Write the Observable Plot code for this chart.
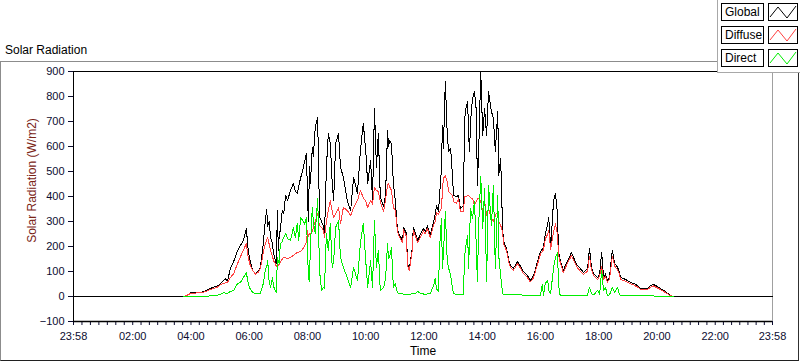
<!DOCTYPE html>
<html>
<head>
<meta charset="utf-8">
<script src="https://cdn.jsdelivr.net/npm/d3@7"></script>
<script src="https://cdn.jsdelivr.net/npm/@observablehq/plot@0.6"></script>
<style>
  body { margin: 0; background: #fff; }
  #root { position: relative; width: 800px; height: 361px; overflow: hidden; font-family: "Liberation Sans", Arial, sans-serif; }
  #title { position: absolute; left: 5px; top: 43px; font-size: 12px; color: #000; white-space: nowrap; }
  #chart { position: absolute; left: 0; top: 61px; }
  #frame { position: absolute; left: 0; top: 61px; width: 799px; height: 300px; box-sizing: border-box;
           border-top: 1px solid #8c8c8c; border-left: 1px solid #8c8c8c; border-right: 1px solid #303030; border-bottom: 1px solid #202020; pointer-events: none; }
  #legend { position: absolute; left: 717px; top: 0; width: 83px; height: 73px; background: #fff; box-sizing: border-box;
            border-left: 1px solid #a8a8a8; border-bottom: 1px solid #a8a8a8; }
  .lab { position: absolute; left: 3px; width: 43px; height: 18px; box-sizing: border-box; border: 1px solid #000;
         font-size: 12px; line-height: 16px; padding-left: 3px; color: #000; white-space: nowrap; }
  .sw { position: absolute; left: 50px; width: 30px; height: 18px; box-sizing: border-box; border: 1px solid #000; }
</style>
</head>
<body>
<div id="root">
  <div id="title">Solar Radiation</div>
  <div id="chart"></div>
  <div id="frame"></div>
  <div id="legend"></div>
</div>
<script>
// ---- tick labels ----
const timeTickLabels = ["23:58","02:00","04:00","06:00","08:00","10:00","12:00","14:00","16:00","18:00","20:00","22:00","23:58"];
const yTickValues = [-100, 0, 100, 200, 300, 400, 500, 600, 700, 800, 900];
const minorPerMajor = 7;

// ---- legend ----
const seriesNames = ["Global", "Diffuse", "Direct"];
const seriesColors = ["#000000", "#ff4040", "#00ee00"];

// ---- data: [minutes since midnight, W/m2] ----
const globalRad = [[-2,0],[225,0],[232,6],[239,14],[250,16],[260,17],[270,22],[278,30],[286,37],[295,42],[301,52],[307,64],[311,72],[315,60],[321,110],[328,140],[336,184],[342,205],[348,224],[354,272],[358,184],[362,140],[367,104],[373,92],[378,100],[383,116],[389,212],[393,300],[396,348],[398,280],[401,300],[404,236],[408,210],[410,172],[414,144],[416,130],[418,344],[420,184],[422,250],[424,264],[428,344],[431,330],[435,404],[439,384],[445,424],[451,452],[455,420],[459,412],[462,440],[466,476],[470,500],[474,540],[478,572],[480,397],[482,300],[484,520],[486,450],[490,597],[492,560],[496,677],[501,717],[503,500],[505,317],[509,300],[513,280],[515,236],[519,517],[523,652],[527,612],[531,452],[534,384],[538,612],[544,652],[548,517],[554,477],[562,384],[569,344],[575,477],[583,412],[589,584],[595,692],[600,584],[604,452],[610,544],[614,384],[618,752],[622,517],[626,652],[630,400],[637,360],[641,412],[645,664],[647,600],[649,624],[653,612],[657,452],[661,384],[665,276],[668,252],[676,224],[678,276],[684,252],[686,132],[690,112],[696,196],[698,276],[703,250],[707,224],[713,250],[719,272],[723,260],[727,284],[733,244],[740,300],[743,330],[746,364],[750,340],[752,400],[756,512],[758,684],[760,592],[764,860],[768,644],[771,580],[775,592],[779,472],[781,404],[787,400],[791,404],[795,352],[801,364],[804,712],[806,750],[810,780],[812,640],[814,580],[816,700],[820,792],[824,820],[828,740],[830,444],[833,600],[837,900],[841,644],[845,752],[849,644],[853,820],[859,740],[863,712],[867,580],[872,740],[874,484],[878,552],[882,272],[884,220],[890,192],[894,152],[898,124],[904,112],[913,140],[919,120],[925,100],[933,84],[939,64],[946,84],[954,140],[960,180],[964,190],[966,196],[970,250],[975,292],[977,316],[981,196],[987,384],[991,412],[995,332],[997,184],[999,160],[1001,144],[1007,104],[1016,144],[1024,176],[1028,156],[1036,124],[1042,112],[1049,96],[1057,112],[1061,192],[1065,116],[1069,92],[1078,76],[1082,92],[1086,176],[1090,76],[1094,90],[1098,64],[1102,76],[1108,184],[1113,132],[1119,116],[1122,100],[1125,76],[1131,72],[1139,64],[1146,56],[1152,52],[1160,44],[1166,32],[1172,32],[1181,32],[1187,44],[1193,48],[1201,40],[1207,32],[1214,24],[1222,12],[1228,4],[1234,0],[1438,0]];

const diffuseRad = [[225,0],[232,5],[239,12],[250,14],[260,15],[270,20],[278,26],[286,32],[295,38],[301,48],[307,52],[311,54],[315,56],[321,75],[328,92],[336,132],[342,160],[348,184],[354,212],[358,156],[362,125],[367,104],[373,90],[378,96],[383,112],[389,176],[393,210],[396,225],[398,236],[401,210],[404,184],[408,160],[410,144],[414,130],[416,120],[418,116],[420,125],[422,130],[424,136],[428,150],[431,156],[435,155],[439,152],[445,156],[451,164],[455,170],[459,176],[462,178],[466,180],[470,190],[474,200],[478,220],[480,264],[482,240],[484,250],[486,252],[490,260],[492,276],[496,300],[501,332],[503,300],[505,285],[509,276],[513,264],[515,236],[519,300],[523,344],[527,384],[531,340],[534,316],[538,330],[544,356],[548,292],[554,356],[562,344],[569,324],[575,356],[583,384],[589,424],[595,396],[600,380],[604,356],[610,384],[614,370],[618,436],[622,424],[626,420],[630,380],[637,340],[641,390],[645,444],[647,452],[649,440],[653,424],[657,356],[661,344],[665,268],[668,244],[676,214],[678,266],[684,240],[686,124],[690,104],[696,186],[698,264],[703,240],[707,214],[713,238],[719,262],[723,250],[727,272],[733,234],[740,288],[743,300],[746,336],[750,328],[752,340],[756,352],[758,420],[760,472],[764,484],[768,460],[771,420],[775,410],[779,404],[781,380],[787,372],[791,392],[795,340],[801,340],[804,400],[806,400],[810,404],[812,404],[814,400],[816,395],[820,392],[824,364],[828,380],[830,392],[833,390],[837,380],[841,340],[845,380],[849,324],[853,352],[859,312],[863,300],[867,324],[872,340],[874,300],[878,284],[882,260],[884,210],[890,184],[894,144],[898,116],[904,104],[913,132],[919,112],[925,92],[933,76],[939,58],[946,76],[954,130],[960,170],[964,180],[966,186],[970,230],[975,250],[977,264],[981,188],[987,260],[991,290],[995,250],[997,170],[999,150],[1001,134],[1007,96],[1016,134],[1024,164],[1028,146],[1036,114],[1042,102],[1049,88],[1057,102],[1061,160],[1065,108],[1069,84],[1078,68],[1082,82],[1086,120],[1090,68],[1094,78],[1098,58],[1102,68],[1108,160],[1113,122],[1119,106],[1122,92],[1125,68],[1131,64],[1139,58],[1146,50],[1152,46],[1160,38],[1166,28],[1172,28],[1181,28],[1187,38],[1193,42],[1201,34],[1207,28],[1214,20],[1222,10],[1228,3],[1234,0]];

const directRad = [[225,0],[239,0],[260,0],[278,2],[286,4],[295,6],[301,8],[307,16],[315,12],[321,20],[328,24],[336,52],[342,56],[348,76],[354,96],[358,52],[362,30],[367,16],[373,12],[383,12],[389,52],[393,104],[396,120],[398,144],[401,60],[404,36],[408,76],[410,40],[414,24],[416,16],[418,156],[420,140],[422,132],[424,212],[428,220],[431,236],[435,252],[439,232],[445,224],[451,276],[455,236],[459,292],[462,224],[466,316],[470,304],[474,290],[478,316],[480,184],[482,76],[484,60],[486,200],[490,356],[492,300],[496,252],[501,392],[503,252],[505,100],[509,24],[513,36],[515,30],[519,252],[523,184],[527,292],[531,116],[534,144],[538,276],[544,304],[548,156],[554,116],[562,76],[569,36],[575,116],[583,64],[589,212],[595,292],[600,144],[604,36],[610,144],[614,36],[618,304],[622,116],[626,184],[630,24],[637,36],[641,76],[645,212],[647,150],[649,156],[653,196],[657,36],[661,52],[665,16],[668,12],[676,10],[686,10],[690,8],[698,12],[703,14],[707,20],[713,12],[719,10],[727,10],[733,12],[740,44],[743,72],[746,30],[750,20],[752,192],[756,312],[758,112],[760,164],[764,340],[768,140],[771,112],[775,84],[779,32],[781,12],[787,8],[801,8],[804,164],[806,200],[810,244],[812,112],[814,250],[816,352],[820,312],[824,380],[828,192],[830,60],[833,300],[837,480],[841,272],[845,432],[849,60],[853,444],[859,284],[863,444],[867,112],[872,404],[874,164],[878,84],[882,12],[884,8],[960,4],[964,50],[966,4],[970,52],[975,64],[977,24],[981,12],[987,116],[991,156],[995,176],[997,64],[999,12],[1001,6],[1057,6],[1061,36],[1065,12],[1069,6],[1078,24],[1082,8],[1086,104],[1090,24],[1094,36],[1098,4],[1102,6],[1108,36],[1113,16],[1119,36],[1122,12],[1125,4],[1193,2],[1222,0],[1234,0]];

// ---- ticks ----
const majorTicks = timeTickLabels.map((s, i) => {
  const [h, m] = s.split(":").map(Number);
  return i === 0 ? h * 60 + m - 1440 : h * 60 + m;
});
const allTicks = [];
for (let i = 0; i < majorTicks.length; i++) {
  allTicks.push(majorTicks[i]);
  if (i < majorTicks.length - 1) {
    const a = majorTicks[i], b = majorTicks[i + 1];
    for (let k = 1; k < minorPerMajor; k++) allTicks.push(a + (b - a) * k / minorPerMajor);
  }
}
const fmt = d => { const i = majorTicks.indexOf(d); return i >= 0 ? timeTickLabels[i] : ""; };

const xDom = [majorTicks[0], majorTicks[majorTicks.length - 1]];
const yDom = [yTickValues[0], yTickValues[yTickValues.length - 1]];

const lineOpts = (color) => ({x: d => d[0], y: d => d[1], stroke: color, strokeWidth: 1, shapeRendering: "crispEdges"});

const chart = Plot.plot({
  width: 800,
  height: 300,
  marginLeft: 73,
  marginRight: 28,
  marginTop: 10,
  marginBottom: 40,
  style: {fontFamily: "'Liberation Sans', Arial, sans-serif", fontSize: "11px", color: "#0c0c30", background: "transparent", overflow: "visible"},
  x: {domain: xDom, ticks: allTicks, tickFormat: fmt, tickSize: 4, tickPadding: 7, label: null},
  y: {domain: yDom, ticks: yTickValues, tickSize: 5, tickPadding: 4, label: null},
  marks: [
    Plot.ruleX([xDom[1]], {stroke: "#a0a0a0"}),
    Plot.line(globalRad, lineOpts(seriesColors[0])),
    Plot.line(diffuseRad, lineOpts(seriesColors[1])),
    Plot.line(directRad, lineOpts(seriesColors[2])),
    Plot.ruleY([yDom[1]], {stroke: "#000"}),
    Plot.ruleY([yDom[0]], {stroke: "#000", strokeWidth: 1.5}),
    Plot.ruleX([xDom[0]], {stroke: "#000"}),
    Plot.text(["Time"], {frameAnchor: "bottom", dy: 33, fontSize: 12, fill: "#000"}),
    Plot.text(["Solar Radiation (W/m2)"], {frameAnchor: "left", textAnchor: "middle", lineAnchor: "middle", dx: -41, dy: -16, rotate: -90, fontSize: 12, fill: "#7a2416"})
  ]
});
document.getElementById("chart").appendChild(chart);

// ---- legend ----
const legend = document.getElementById("legend");
seriesNames.forEach((name, i) => {
  const top = 3 + i * 23;
  const lab = document.createElement("div");
  lab.className = "lab";
  lab.style.top = top + "px";
  lab.textContent = name;
  legend.appendChild(lab);
  const sw = document.createElement("div");
  sw.className = "sw";
  sw.style.top = top + "px";
  sw.innerHTML = `<svg width="28" height="16" style="display:block"><polyline points="1,13 9,3 18,14 27,2" fill="none" stroke="${seriesColors[i]}" stroke-width="1"/></svg>`;
  legend.appendChild(sw);
});
</script>
</body>
</html>
